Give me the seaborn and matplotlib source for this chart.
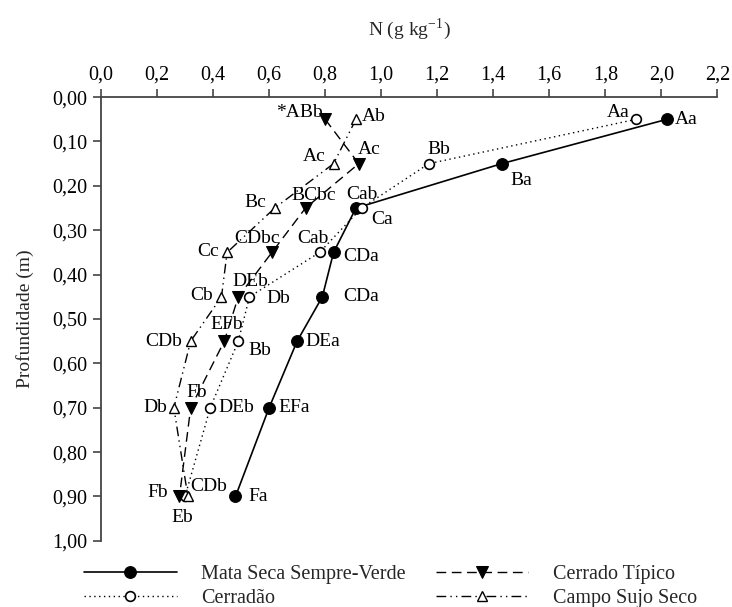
import matplotlib
matplotlib.use("Agg")
import matplotlib.pyplot as plt
import seaborn as sns
import pandas as pd
from matplotlib.ticker import FuncFormatter, MultipleLocator

sns.set_theme(style="white")
plt.rcParams["font.family"] = ["Liberation Serif", "DejaVu Serif"]
plt.rcParams["mathtext.fontset"] = "stix"

depth = [0.05, 0.15, 0.25, 0.35, 0.45, 0.55, 0.70, 0.90]

sites = ["Mata Seca Sempre-Verde", "Cerradão", "Cerrado Típico", "Campo Sujo Seco"]

n_mata = [2.02, 1.43, 0.91, 0.83, 0.79, 0.70, 0.60, 0.48]
n_cerradao = [1.91, 1.17, 0.93, 0.78, 0.53, 0.49, 0.39, 0.30]
n_tipico = [0.80, 0.92, 0.73, 0.61, 0.49, 0.44, 0.32, 0.28]
n_campo = [0.91, 0.83, 0.62, 0.45, 0.43, 0.32, 0.26, 0.31]

lab_mata = ["Aa", "Ba", "Ca", "CDa", "CDa", "DEa", "EFa", "Fa"]
lab_cerradao = ["Aa", "Bb", "Cab", "Cab", "Db", "Bb", "DEb", "CDb"]
lab_tipico = ["*ABb", "Ac", "BCbc", "CDbc", "DEb", "EFb", "Fb", "Fb"]
lab_campo = ["Ab", "Ac", "Bc", "Cc", "Cb", "CDb", "Db", "Eb"]

values = [n_mata, n_cerradao, n_tipico, n_campo]
labels = [lab_mata, lab_cerradao, lab_tipico, lab_campo]

# line / marker styling per site
styles = [
    dict(linestyle="-", marker="o", markersize=8.5, markerfacecolor="black",
         markeredgecolor="black", linewidth=1.2),
    dict(linestyle=(0, (1, 2.5)), marker="o", markersize=7, markerfacecolor="white",
         markeredgecolor="black", markeredgewidth=1.2, linewidth=1.0),
    dict(linestyle=(0, (7, 4)), marker="v", markersize=8.5, markerfacecolor="black",
         markeredgecolor="black", linewidth=1.0),
    dict(linestyle=(0, (7, 3, 1, 3, 1, 3)), marker="^", markersize=7,
         markerfacecolor="white", markeredgecolor="black", markeredgewidth=1.0,
         linewidth=1.0),
]

# label offsets in points (dx, dy) and horizontal alignment
offsets = [
    [(6, 0, "left"), (6, -12, "left"), (11, -8, "left"), (7, -3, "left"),
     (15, 0, "left"), (6, 0, "left"), (7, 0, "left"), (9, 0, "left")],
    [(-5, 5, "right"), (-1, 10, "left"), (0, 10, "center"), (-5, 10, "center"),
     (12, -1, "left"), (7, -7, "left"), (6, 0, "left"), (4, 7, "left")],
    [(-2, 5, "right"), (-1, 10, "left"), (6, 9, "center"), (-11, 10, "center"),
     (9, 11, "center"), (2, 12, "center"), (4, 11, "center"), (-8, 3, "right")],
    [(4, 2, "left"), (-6, 5, "right"), (-6, 4, "right"), (-6, 1, "right"),
     (-6, 1, "right"), (-6, 0, "right"), (-5, 0, "right"), (-4, -15, "center")],
]

fig = plt.figure(figsize=(7.32, 6.07), dpi=100)
ax = fig.add_axes([0.138, 0.109, 0.842, 0.731])

for site, vals, st in zip(sites, values, styles):
    df = pd.DataFrame({"N": vals, "depth": depth})
    sns.lineplot(data=df, x="N", y="depth", sort=False, estimator=None,
                 color="black", ax=ax, label=site, legend=False, **st)

for vals, labs, offs in zip(values, labels, offsets):
    for v, d, t, (dx, dy, ha) in zip(vals, depth, labs, offs):
        ax.annotate(t, (v, d), xytext=(dx, dy), textcoords="offset points",
                    ha=ha, va="center", fontsize=14, color="black")

ax.set_xlim(0, 2.2)
ax.set_ylim(1.0, 0.0)
ax.xaxis.set_major_locator(MultipleLocator(0.2))
ax.yaxis.set_major_locator(MultipleLocator(0.1))
ax.xaxis.set_major_formatter(FuncFormatter(lambda v, p: f"{v:.1f}".replace(".", ",")))
ax.yaxis.set_major_formatter(FuncFormatter(lambda v, p: f"{v:.2f}".replace(".", ",")))
ax.xaxis.tick_top()
ax.xaxis.set_label_position("top")

for side in ["right", "bottom"]:
    ax.spines[side].set_visible(False)
for side in ["left", "top"]:
    ax.spines[side].set_color("#444444")
    ax.spines[side].set_linewidth(1.3)

ax.tick_params(axis="both", direction="out", length=6, width=1.2, color="#444444",
               labelsize=14.5, labelcolor="black")
ax.tick_params(axis="x", top=True, bottom=False, pad=3)
ax.tick_params(axis="y", left=True, pad=4)

ax.set_xlabel("N (g kg$^{\\mathregular{-1}}$)", fontsize=14, labelpad=22)
ax.set_ylabel("Profundidade (m)", fontsize=14, labelpad=13)

handles = ax.get_lines()[:4]
fig.legend(handles, sites,
           loc="lower left", bbox_to_anchor=(0.115, -0.002), ncol=2, frameon=False,
           fontsize=14.5, handlelength=4.6, handletextpad=1.2, columnspacing=1.5,
           labelspacing=0.25, borderpad=0.0, borderaxespad=0.0)

fig.savefig("out.png", dpi=100, facecolor="white")
